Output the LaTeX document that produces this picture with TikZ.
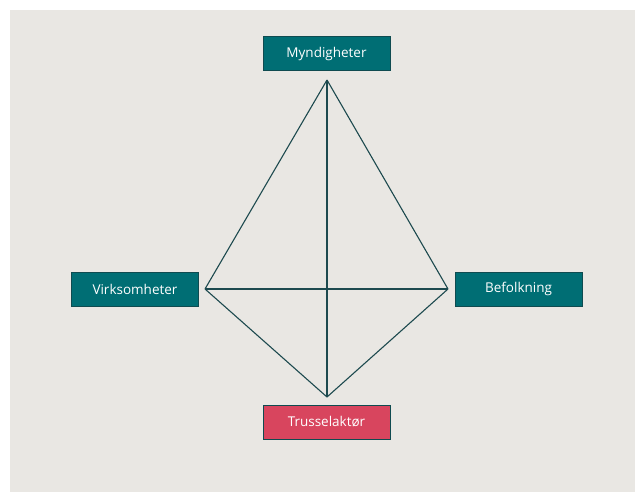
\documentclass[tikz,border=0pt]{standalone}
\usepackage{fontspec}
\setsansfont{Open Sans}
\usepackage{tikz}
\usetikzlibrary{positioning, calc}

\definecolor{bgGrey}{HTML}{E9E7E3}
\definecolor{tealBox}{HTML}{006E74}
\definecolor{tealEdge}{HTML}{0F4B50}
\definecolor{redBox}{HTML}{D8455E}
\definecolor{lineTeal}{HTML}{1D4A4F}

\begin{document}
\begin{tikzpicture}[
    x=1pt, y=-1pt,
    every edge/.style={draw=lineTeal, line width=1.1pt},
    actor/.style={draw=tealEdge, line width=1pt, fill=tealBox, text=white, minimum width=127pt, minimum height=34pt, inner sep=0pt, font=\sffamily\fontsize{13.5}{15}\selectfont},
    threat/.style={actor, fill=redBox}]

    \useasboundingbox (0,0) rectangle (635,492);
    \fill[bgGrey] (10,10) rectangle (635,492);

    \node at (326.5,54)[actor] (myndigheter) {Myndigheter};
    \node at (135,289)[actor] (virksomheter) {Virksomheter};
    \node at (518.5,289)[actor] (befolkning) {Befolkning};
    \node at (326.5,422)[threat] (trussel) {Trusselaktør};

    %%% Corners of the figure
    \coordinate (top) at (327,80);
    \coordinate (left) at (205,289);
    \coordinate (right) at (448,289);
    \coordinate (bottom) at (327,397);

    \path (top) edge (left) edge (right) edge (bottom);
    \path (left) edge (right) edge (bottom);
    \path (right) edge (bottom);

\end{tikzpicture}
\end{document}
